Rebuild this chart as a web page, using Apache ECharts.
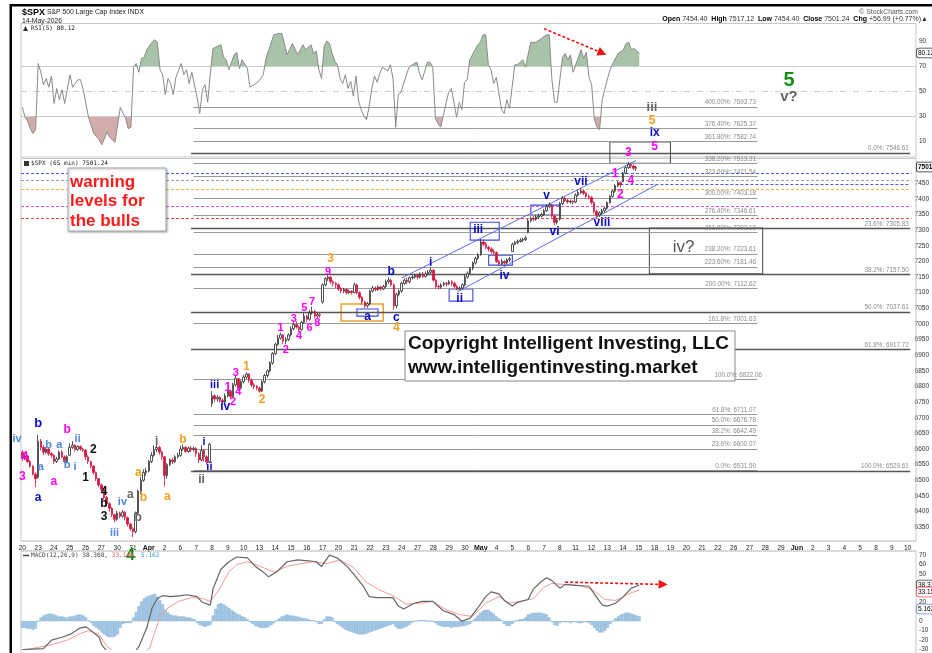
<!DOCTYPE html>
<html>
<head>
<meta charset="utf-8">
<script src="https://cdn.jsdelivr.net/npm/echarts@6/dist/echarts.min.js"></script>
<style>
  html, body { margin: 0; padding: 0; background: #fff; }
  #main { width: 932px; height: 653px; }
</style>
</head>
<body>
<div id="main"></div>
<script>
const FONT = '"Liberation Sans", Arial, sans-serif';
const MONO = '"DejaVu Sans Mono", "Liberation Mono", monospace';

// trading days on the date axis, 6 bars of 65 min per day
const days = ['20','23','24','25','26','27','30','31','Apr','2','6','7','8','9','10','13','14','15','16','17',
  '20','21','22','23','24','27','28','29','30','May','4','5','6','7','8','11','12','13','14','15',
  '18','19','20','21','22','26','27','28','29','Jun','2','3','4','5','8','9','10'];
const months = ['Apr', 'May', 'Jun'];
const BARS_PER_DAY = 6;
const N_CATS = 338;

// 65 min bars: [open, close, low, high], one row per day
const ohlc = [
  [6590,6570,6562,6596],[6570,6578,6565,6583],[6578,6560,6555,6582],[6560,6545,6540,6565],[6545,6520,6515,6548],[6520,6505,6478,6525],
  [6510,6625,6505,6645],[6625,6605,6595,6632],[6605,6590,6580,6612],[6590,6600,6585,6606],[6600,6585,6578,6605],[6585,6580,6572,6590],
  [6580,6560,6552,6583],[6560,6568,6555,6575],[6568,6590,6565,6595],[6590,6575,6570,6596],[6575,6560,6555,6580],[6560,6575,6555,6580],
  [6580,6605,6578,6618],[6605,6612,6600,6625],[6612,6598,6592,6615],[6598,6608,6594,6612],[6608,6600,6594,6612],[6600,6596,6590,6604],
  [6596,6575,6565,6600],[6575,6560,6552,6580],[6560,6545,6538,6563],[6545,6525,6518,6548],[6525,6505,6498,6528],[6505,6485,6478,6508],
  [6485,6470,6460,6490],[6470,6445,6438,6474],[6445,6425,6415,6450],[6425,6410,6400,6430],[6410,6390,6382,6414],[6390,6375,6365,6394],
  [6375,6395,6370,6402],[6395,6385,6378,6400],[6385,6398,6380,6405],[6398,6380,6372,6402],[6380,6360,6352,6384],[6360,6345,6338,6364],
  [6345,6335,6318,6350],[6335,6395,6330,6400],[6395,6465,6390,6470],[6465,6500,6455,6510],[6500,6525,6495,6535],[6525,6530,6515,6540],
  [6530,6560,6525,6565],[6560,6580,6555,6590],[6580,6598,6575,6612],[6598,6605,6590,6618],[6605,6590,6582,6610],[6590,6575,6565,6595],
  [6575,6515,6480,6578],[6515,6550,6505,6555],[6550,6565,6545,6570],[6565,6560,6552,6572],[6560,6575,6555,6580],[6575,6580,6570,6588],
  [6580,6600,6575,6610],[6600,6605,6595,6615],[6605,6592,6588,6610],[6592,6603,6588,6608],[6603,6598,6590,6610],[6598,6602,6592,6608],
  [6602,6585,6575,6606],[6585,6565,6555,6590],[6565,6595,6560,6612],[6595,6575,6560,6600],[6575,6560,6550,6580],[6560,6615,6555,6620],
  [6745,6770,6735,6785],[6770,6760,6750,6775],[6760,6765,6752,6772],[6765,6755,6748,6770],[6755,6750,6745,6762],[6750,6770,6745,6778],
  [6770,6785,6765,6790],[6785,6768,6760,6790],[6768,6805,6765,6812],[6805,6825,6800,6835],[6825,6795,6785,6828],[6795,6815,6790,6820],
  [6815,6830,6810,6838],[6830,6840,6825,6845],[6840,6820,6812,6842],[6820,6805,6798,6825],[6805,6800,6792,6812],[6800,6795,6788,6805],
  [6795,6785,6780,6800],[6785,6815,6782,6820],[6815,6835,6810,6840],[6835,6850,6828,6855],[6850,6875,6845,6880],[6875,6905,6870,6910],
  [6905,6935,6900,6940],[6935,6955,6930,6965],[6955,6965,6950,6972],[6965,6945,6935,6968],[6945,6950,6935,6958],[6950,6965,6945,6970],
  [6965,6985,6960,6992],[6985,6998,6980,7005],[6998,6990,6985,7008],[6990,6982,6975,6995],[6982,7005,6978,7010],[7005,7025,7000,7035],
  [7025,7015,7005,7030],[7015,7035,7010,7045],[7035,7040,7030,7055],[7040,7025,7018,7045],[7025,7030,7018,7035],[7030,7028,7020,7036],
  [7070,7125,7065,7130],[7125,7145,7120,7150],[7145,7150,7138,7158],[7150,7135,7128,7152],[7135,7130,7120,7140],[7130,7125,7115,7135],
  [7125,7112,7105,7130],[7112,7105,7098,7118],[7105,7110,7098,7115],[7110,7100,7094,7114],[7100,7105,7095,7110],[7105,7100,7094,7108],
  [7100,7125,7098,7132],[7125,7100,7095,7128],[7100,7085,7078,7104],[7085,7070,7062,7090],[7070,7058,7050,7074],[7058,7065,7052,7070],
  [7065,7105,7060,7110],[7105,7115,7100,7122],[7115,7110,7104,7120],[7110,7118,7105,7124],[7118,7112,7106,7122],[7112,7120,7108,7125],
  [7120,7135,7115,7142],[7135,7140,7128,7150],[7140,7125,7120,7145],[7125,7058,7045,7130],[7058,7095,7050,7100],[7095,7105,7088,7110],
  [7105,7130,7100,7135],[7130,7140,7125,7145],[7140,7135,7128,7148],[7135,7148,7130,7152],[7148,7150,7142,7156],[7150,7155,7145,7160],
  [7155,7150,7142,7160],[7150,7160,7145,7165],[7160,7152,7146,7166],[7152,7160,7148,7168],[7160,7165,7155,7172],[7165,7172,7160,7180],
  [7172,7140,7135,7175],[7140,7120,7112,7145],[7120,7118,7110,7126],[7118,7125,7112,7130],[7125,7130,7120,7135],[7130,7128,7120,7134],
  [7128,7135,7125,7140],[7135,7130,7122,7140],[7130,7120,7114,7134],[7120,7112,7108,7125],[7112,7115,7108,7120],[7115,7125,7110,7130],
  [7125,7150,7120,7158],[7150,7162,7145,7168],[7162,7178,7158,7182],[7178,7195,7172,7200],[7195,7210,7190,7215],[7210,7220,7205,7226],
  [7222,7262,7218,7272],[7262,7255,7248,7270],[7255,7245,7238,7262],[7245,7240,7232,7250],[7240,7232,7225,7245],[7232,7228,7220,7238],
  [7228,7200,7195,7232],[7200,7192,7186,7205],[7192,7200,7188,7208],[7200,7195,7188,7204],[7195,7205,7190,7210],[7205,7208,7198,7214],
  [7232,7255,7230,7260],[7255,7260,7252,7266],[7260,7264,7256,7270],[7264,7268,7260,7274],[7268,7270,7262,7276],[7270,7275,7265,7282],
  [7292,7330,7290,7336],[7330,7338,7325,7344],[7338,7335,7328,7345],[7335,7342,7330,7348],[7342,7345,7336,7352],[7345,7350,7340,7356],
  [7350,7362,7346,7368],[7362,7375,7358,7382],[7375,7380,7370,7388],[7380,7345,7340,7384],[7345,7325,7316,7350],[7325,7332,7318,7338],
  [7335,7385,7330,7390],[7385,7402,7380,7408],[7402,7395,7390,7406],[7395,7390,7384,7400],[7390,7392,7385,7398],[7392,7388,7382,7396],
  [7390,7412,7386,7418],[7412,7420,7408,7428],[7420,7425,7415,7435],[7425,7418,7412,7430],[7418,7408,7402,7422],[7408,7405,7398,7414],
  [7405,7388,7382,7408],[7388,7360,7352,7392],[7360,7348,7340,7365],[7348,7355,7342,7360],[7355,7362,7350,7368],[7362,7370,7356,7375],
  [7370,7388,7365,7392],[7388,7408,7384,7412],[7408,7425,7404,7430],[7425,7442,7420,7447],[7442,7452,7438,7458],[7452,7445,7436,7456],
  [7454.4,7482,7454.4,7486],[7482,7500,7478,7504],[7500,7510,7496,7517.12],[7510,7505,7498,7514],[7505,7498,7492,7510],[7498,7501.24,7490,7506]
];

// RSI(5): [bar, value]
const rsi5 = [
  [0,37],[1,29],[2,26],[3,20],[4,16],[5,19],[6,72],[7,65],[8,55],[9,60],[10,53],[11,62],[12,40],[13,52],[14,43],[15,51],[16,40],
  [18,63],[19,53],[21,59],[22,59],[23,51],[25,29],[27,16],[29,11],[30,7],[32,17],[33,13],[35,9],[37,37],[39,28],[40,20],[41,21],
  [42,69],[43,72],[44,65],[45,76],[46,77],[47,83],[49,89],[50,91],[51,89],[52,67],[53,63],[54,47],[55,60],[56,56],[57,47],[58,61],
  [60,72],[61,63],[62,67],[63,56],[64,65],[66,45],[67,32],[68,51],[69,55],[70,41],[71,64],[72,84],[75,87],[76,77],[77,75],[78,67],
  [80,79],[81,81],[82,68],[83,75],[85,68],[86,53],[89,57],[91,63],[92,76],[95,95],[97,96],[98,96],[100,79],[102,88],[104,79],
  [106,87],[107,83],[109,87],[110,80],[111,82],[112,67],[113,60],[114,86],[115,90],[116,88],[117,80],[118,74],[119,71],[120,60],
  [121,56],[122,63],[123,52],[124,58],[125,46],[126,62],[127,42],[128,35],[129,30],[130,27],[131,38],[132,52],[133,62],[134,57],
  [135,64],[136,69],[138,66],[139,71],[140,60],[141,21],[142,47],[143,49],[146,69],[148,72],[149,73],[150,64],[151,59],[153,73],
  [154,73],[155,69],[156,28],[157,24],[158,21],[160,40],[161,49],[162,52],[163,41],[164,29],[165,41],[166,35],[167,57],[168,59],
  [169,75],[172,87],[173,89],[174,95],[175,95],[176,71],[177,67],[178,56],[179,61],[181,35],[182,32],[183,43],[184,36],[186,71],
  [187,71],[188,73],[189,75],[190,69],[192,89],[194,89],[196,92],[198,95],[199,95],[200,59],[201,41],[202,41],[204,77],[205,80],
  [206,75],[207,79],[208,65],[211,83],[212,76],[213,81],[214,61],[215,55],[216,28],[217,21],[218,19],[219,43],[221,60],[222,67],
  [223,72],[225,80],[227,83],[228,88],[229,89],[230,83],[231,84],[233,80.12]
];

// MACD(12,26,9)
const macdLine = [
  [0,-30],[8,-29],[11,-20],[15,-17],[18,-14],[22,-7],[24,-6],[26,-10],[29,-17],[30,-25],[32,-32],[35,-38],[38,-41],[41,-38],
  [44,-27],[47,-7],[49,14],[51,24],[53,27],[56,26],[60,27],[62,28],[66,26],[68,20],[71,17],[72,34],[75,55],[78,63],[81,68],
  [85,67],[88,58],[91,52],[93,47],[96,52],[100,63],[104,65],[108,64],[111,63],[113,58],[116,70],[119,67],[123,57],[126,47],
  [129,36],[131,26],[134,25],[140,25],[142,16],[144,13],[148,19],[151,21],[155,21],[159,11],[163,7],[166,0],[169,3],[172,14],
  [175,26],[177,31],[180,29],[182,22],[185,16],[187,20],[191,23],[193,34],[196,42],[198,46],[200,43],[203,35],[205,39],[209,38],
  [214,37],[216,29],[219,17],[221,16],[224,19],[227,26],[230,35],[232,37],[233,38.31]
];
const signalLine = [
  [0,-31],[11,-25],[17,-20],[22,-13],[25,-10],[29,-14],[32,-27],[35,-33],[40,-37],[44,-35],[48,-29],[50,-12],[52,4],[55,14],
  [59,21],[64,25],[68,24],[71,21],[74,32],[78,52],[81,60],[85,63],[90,58],[95,52],[100,58],[105,61],[110,63],[115,61],[120,65],
  [125,57],[130,41],[135,33],[140,27],[145,18],[150,19],[155,21],[160,12],[165,7],[170,5],[175,19],[180,26],[184,19],[188,21],
  [193,24],[197,36],[200,40],[204,39],[210,38],[215,34],[220,23],[224,22],[229,29],[233,33.15]
];
const macdHist = [
  -7,-7,-8,-8,-9,-8,   0,4,6,7,8,8,   7,6,5,5,4,4,   5,5,6,7,7,6,   4,1,-2,-5,-7,-9,   -12,-14,-16,-17,-17,-16,
  -14,-7,-3,-2,-2,-2,   4,10,16,21,24,26,   27,28,29,26,22,18,   12,9,7,6,6,5,   5,5,4,4,3,2,   -2,-4,-5,-6,-5,-4,
  6,13,18,19,18,16,   14,12,10,8,7,5,   4,2,-1,-3,-5,-6,   -7,-7,-7,-6,-4,-2,   1,3,5,6,7,6,   6,5,5,4,3,3,
  2,1,1,-1,-3,-3,   2,5,5,4,-1,-3,   -5,-7,-9,-10,-11,-12,   -13,-14,-14,-14,-13,-12,   -11,-10,-9,-8,-7,-6,   -5,-4,-3,-6,-8,-8,
  -7,-6,-4,-2,0,0,   1,1,1,0,0,0,   -2,-4,-5,-6,-6,-6,   -7,-6,-6,-6,-5,-5,   -4,-3,0,3,6,9,   11,12,12,10,8,5,
  3,1,-3,-5,-5,-3,   0,1,2,2,4,7,   8,9,9,9,9,8,   7,4,-1,-4,-5,-2,   -1,-1,-1,-2,-1,-1,   -2,-2,-1,-1,-2,-4,
  -7,-10,-12,-12,-10,-7,   -3,0,3,5,7,8,   9,9,8,7,6,5.16
];

// Fibonacci levels
const fibExt = [['400.00%',7693.73],['376.40%',7625.37],['361.80%',7582.74],['338.20%',7513.31],['323.60%',7471.54],
  ['300.00%',7403.18],['276.40%',7346.61],['261.80%',7292.18],['238.20%',7223.61],['223.60%',7181.46],['200.00%',7112.62],
  ['161.8%',7001.63],['100.0%',6822.06],['61.8%',6711.07],['50.0%',6676.78],['38.2%',6642.49],['23.6%',6600.07],['0.0%',6531.50]];
const fibRet = [['0.0%',7546.61],['23.6%',7305.83],['38.2%',7157.50],['50.0%',7037.61],['61.8%',6917.72],['100.0%',6529.61]];
const warnLevels = [7482, 7459, 7432, 7375, 7337];
const warnColors = ['#4a5cf0', '#a0a0a0', '#f4b24a', '#e44ce4', '#e24a4a'];

// wave count labels: [text, bar, price, colour, size]
const MG = '#ff00ff', BL = '#0a0ac8', LB = '#4f86dd', BK = '#111', GR = '#666', OR = '#f5a020', GN = '#168a16';
const waves = [
  ['iv',-1.6,6632,LB,11],['4',1,6574,MG,12],['3',0,6510,MG,12],['a',5.5,6443,BL,12],['b',6.3,6683,BL,13],['a',7.4,6542,LB,11],
  ['b',10.1,6613,LB,11],['a',11.6,6494,MG,12],['a',14.2,6613,LB,11],['b',17.3,6661,MG,12],['b',16.5,6549,LB,11],['ii',21,6632,LB,11],
  ['i',19.5,6542,LB,11],['2',27.4,6597,BK,12],['1',24,6507,BK,12],['4',31.2,6462,BK,12],['b',31.2,6424,BK,12],['3',30.5,6383,BK,12],
  ['iv',37.6,6431,LB,11],['iii',35,6331,LB,11],['a',41.4,6453,GR,12],['b',43.7,6379,GR,12],['b',45.6,6443,OR,12],['a',44.4,6523,OR,12],
  ['i',50.9,6622,GR,12],['a',54.6,6447,OR,12],['b',60.7,6629,OR,12],['i',68.6,6622,BL,11],['ii',71.3,6542,BL,11],['ii',67.9,6501,GR,12],
  ['iii',72.8,6805,BL,11],['iv',76.9,6734,BL,12],['1',77.7,6795,MG,12],['2',80.3,6750,MG,11],['4',81.8,6782,MG,11],['3',80.7,6843,MG,11],
  ['1',84.5,6862,OR,12],['2',90.5,6757,OR,12],['1',98.4,6987,MG,11],['2',100.3,6917,MG,11],['3',103.4,7016,MG,11],['4',104.9,6961,MG,11],
  ['5',107.1,7051,MG,11],['7',110.2,7070,MG,11],['6',109.4,6987,MG,11],['8',112,7003,MG,11],['9',116.2,7166,MG,11],['3',116.6,7208,OR,12],
  ['a',131.3,7022,BL,12],['b',139.6,7166,BL,12],['c',141.5,7019,BL,12],['4',141.5,6987,OR,12],['i',154.7,7195,BL,12],['ii',166,7080,BL,12],
  ['iii',172.8,7300,BL,12],['iv',182.7,7153,BL,12],['v',198.9,7409,BL,12],['vi',201.9,7294,BL,12],['vii',211.7,7454,BL,12],
  ['viii',220,7323,BL,12],['1',225.3,7479,MG,12],['2',226.8,7412,MG,12],['4',230.6,7457,MG,12],['3',230.2,7547,MG,12],
  ['5',240.1,7566,MG,12],['ix',239.7,7611,BL,12],['5',239.3,7649,OR,12],['iii',239.3,7694,GR,13],['5',290.7,7780,GN,20],
  ['v?',291.4,7726,GR,15],['4',41,6258,GN,16]
];

// boxes: [bar from, bar to, low, high, colour]
const boxes = [
  [170,181,7268,7325,'#3b4be0'],[177,186,7188,7220,'#3b4be0'],[162,171,7073,7112,'#3b4be0'],[193,204,7348,7380,'#3b4be0'],
  [127,135,7025,7048,'#3b4be0'],[121,137,7009,7064,'#f0a030'],[223,246,7514,7582,'#555'],[238,281,7160,7307,'#555']
];
const channels = [[144,7147,233,7523],[165,7102,241,7446]];

const cats = Array.from({ length: N_CATS }, (_, i) => String(i));

function xAx(gi) {
  return {
    type: 'category', gridIndex: gi, data: cats, boundaryGap: true,
    axisLine: { show: false }, axisTick: { show: false }, splitLine: { show: false },
    axisLabel: { show: false }
  };
}
const dateAxis = xAx(1);
dateAxis.axisLabel = {
  show: true, margin: 1.5, fontSize: 6.5, color: '#222', fontFamily: FONT,
  interval: (i) => i % BARS_PER_DAY === 0,
  formatter: (v, i) => {
    const d = days[Math.floor(i / BARS_PER_DAY)] || '';
    return months.indexOf(d) >= 0 ? '{m|' + d + '}' : d;
  },
  rich: { m: { fontWeight: 'bold', fontSize: 7, fontFamily: FONT, color: '#111' } }
};

function yAx(gi, min, max, interval, show) {
  return {
    type: 'value', gridIndex: gi, position: 'right', min: min, max: max, interval: interval,
    axisLine: { show: false }, axisTick: { show: false }, splitLine: { show: false },
    axisLabel: { margin: 3, fontSize: 6.5, color: '#333', fontFamily: FONT, formatter: (v) => (show(v) ? String(v) : '') }
  };
}

// the 100% extension label sits over the copyright box, so it is drawn later as an overlay
const OVERLAY_FIB = 6822.06;
const fibLines = [];
fibExt.forEach(([p, v]) => {
  fibLines.push([
    { coord: [65, v], lineStyle: { color: '#9a9a9a', width: 1, type: 'solid' },
      label: { show: v !== OVERLAY_FIB, position: 'insideEndTop', formatter: p + ': ' + v.toFixed(2), fontSize: 6.3, color: '#8a8a8a', fontFamily: FONT, distance: 1.5 } },
    { coord: [279, v] }
  ]);
});
fibRet.forEach(([p, v]) => {
  fibLines.push([
    { coord: [64, v], lineStyle: { color: '#555', width: 1.4, type: 'solid' },
      label: { show: true, position: 'insideEndTop', formatter: p + ': ' + v.toFixed(2), fontSize: 6.3, color: '#8a8a8a', fontFamily: FONT, distance: 1.5 } },
    { coord: [337, v] }
  ]);
});
warnLevels.forEach((v, i) => {
  fibLines.push({ yAxis: v, lineStyle: { color: warnColors[i], width: 1, type: [3, 2] } });
});
fibLines.push([{ coord: [227, 7446.5], lineStyle: { color: '#4a5cf0', width: 1, type: [3, 2] } }, { coord: [337, 7446.5] }]);
channels.forEach(c => {
  fibLines.push([{ coord: [c[0], c[1]], lineStyle: { color: '#5c6cf0', width: 1, type: 'solid' } }, { coord: [c[2], c[3]] }]);
});

const areas = boxes.map(b => [
  { xAxis: b[0], yAxis: b[3], itemStyle: { color: 'rgba(0,0,0,0)', borderColor: b[4], borderWidth: b[4] === '#f0a030' ? 1.5 : 1.1 } },
  { xAxis: b[1], yAxis: b[2] }
]);

const waveData = waves.map(w => ({
  value: [w[1], w[2]],
  label: { show: true, position: 'inside', formatter: w[0], color: w[3], fontSize: w[4], fontWeight: 'bold', fontFamily: FONT }
}));
waveData.push({
  value: [251.4, 7246],
  label: { show: true, position: 'inside', formatter: 'iv?', color: '#555', fontSize: 17, fontWeight: 'normal', fontFamily: FONT }
});

const redArrow = (a) => [
  { coord: [a[0], a[1]], symbol: 'none', lineStyle: { color: '#ee1111', width: 1.6, type: [3, 2] } },
  { coord: [a[2], a[3]], symbol: 'triangle', symbolSize: 9 }
];

const clear = 'rgba(0,0,0,0)';
const chart = echarts.init(document.getElementById('main'));
const option = {
  animation: false,
  backgroundColor: '#fff',
  grid: [
    { left: 21, right: 16, top: 28.5, height: 125 },
    { left: 21, right: 16, top: 26.9, height: 515.9 },
    { left: 21, right: 16, top: 552, height: 101 }
  ],
  xAxis: [xAx(0), dateAxis, xAx(2)],
  yAxis: [
    yAx(0, 0, 100, 10, v => [10, 30, 50, 70, 90].indexOf(v) >= 0),
    yAx(1, 6300, 7950, 50, v => v >= 6350 && v <= 7450),
    yAx(2, -30, 73.3, 10, v => v <= 70)
  ],
  visualMap: [
    { type: 'piecewise', show: false, seriesIndex: 1, dimension: 1,
      pieces: [{ gte: -10, lte: 70, color: clear }, { gt: 70, lte: 110, color: '#a9c3a9' }] },
    { type: 'piecewise', show: false, seriesIndex: 2, dimension: 1,
      pieces: [{ gte: -10, lt: 30, color: '#d2abab' }, { gte: 30, lte: 110, color: clear }] }
  ],
  series: [
    {
      type: 'line', xAxisIndex: 0, yAxisIndex: 0, data: rsi5, symbol: 'none', z: 6,
      lineStyle: { color: '#8a8a8a', width: 1 },
      markLine: {
        silent: true, symbol: 'none', label: { show: false },
        data: [
          { yAxis: 70, lineStyle: { color: '#cccccc', width: 1, type: 'solid' } },
          { yAxis: 30, lineStyle: { color: '#cccccc', width: 1, type: 'solid' } },
          { yAxis: 50, lineStyle: { color: '#cccccc', width: 1, type: [6, 3, 1, 3] } },
          redArrow([197, 99.9, 219, 80.4])
        ]
      }
    },
    { type: 'line', xAxisIndex: 0, yAxisIndex: 0, data: rsi5, symbol: 'none', silent: true, z: 2,
      lineStyle: { width: 0 }, areaStyle: { origin: 'start', opacity: 1 } },
    { type: 'line', xAxisIndex: 0, yAxisIndex: 0, data: rsi5, symbol: 'none', silent: true, z: 2,
      lineStyle: { width: 0 }, areaStyle: { origin: 'end', opacity: 1 } },
    {
      type: 'candlestick', xAxisIndex: 1, yAxisIndex: 1, data: ohlc, barWidth: 2, z: 5,
      itemStyle: { color: '#ffffff', color0: '#d3173d', borderColor: '#2b2b2b', borderColor0: '#d3173d', borderWidth: 0.8 },
      markLine: { silent: true, symbol: 'none', label: { show: false }, data: fibLines },
      markArea: { silent: true, label: { show: false }, data: areas }
    },
    {
      type: 'scatter', xAxisIndex: 1, yAxisIndex: 1, data: waveData, symbolSize: 0, clip: false, silent: true, z: 10,
      itemStyle: { opacity: 1 }
    },
    {
      type: 'bar', xAxisIndex: 2, yAxisIndex: 2, data: macdHist, barWidth: 2.7, z: 2, silent: true,
      itemStyle: { color: '#a9cce6', borderColor: '#79a9d3', borderWidth: 0.5 }
    },
    {
      type: 'line', xAxisIndex: 2, yAxisIndex: 2, data: macdLine, symbol: 'none', z: 6,
      lineStyle: { color: '#666', width: 1.2 },
      markLine: { silent: true, symbol: 'none', label: { show: false }, data: [redArrow([205, 41.4, 242, 38.9])] }
    },
    {
      type: 'line', xAxisIndex: 2, yAxisIndex: 2, data: signalLine, symbol: 'none', z: 5,
      lineStyle: { color: '#f29a9a', width: 1 }
    }
  ],
  graphic: [
    { type: 'rect', z: 1, shape: { x: 21, y: 23.5, width: 895, height: 133.5 }, style: { fill: 'none', stroke: '#c8c8c8', lineWidth: 1 } },
    { type: 'rect', z: 1, shape: { x: 21, y: 158.5, width: 895, height: 382.5 }, style: { fill: 'none', stroke: '#c8c8c8', lineWidth: 1 } },
    { type: 'rect', z: 1, shape: { x: 21, y: 551, width: 895, height: 110 }, style: { fill: 'none', stroke: '#c8c8c8', lineWidth: 1 } },
    { type: 'line', z: 1, shape: { x1: 21, y1: 541.5, x2: 916, y2: 541.5 }, style: { stroke: '#bbb', lineWidth: 1, lineDash: [1, 1] } },
    { type: 'line', z: 1, shape: { x1: 21, y1: 551, x2: 916, y2: 551 }, style: { stroke: '#bbb', lineWidth: 1, lineDash: [1, 1] } },
    { type: 'rect', z: 50, shape: { x: 10, y: 4, width: 922, height: 2.5 }, style: { fill: '#000' } },
    { type: 'rect', z: 50, shape: { x: 9.5, y: 4, width: 2.5, height: 660 }, style: { fill: '#000' } },

    { type: 'text', z: 50, x: 22, y: 12.5, style: { text: '{a|$SPX} S&P 500 Large Cap Index INDX', fontSize: 6.8, fontFamily: FONT, fill: '#222', verticalAlign: 'middle',
      rich: { a: { fontSize: 9, fontWeight: 'bold', fontFamily: FONT, fill: '#000' } } } },
    { type: 'text', z: 50, x: 22, y: 21, style: { text: '14-May-2026', fontSize: 6.8, fontFamily: FONT, fill: '#222', verticalAlign: 'middle' } },
    { type: 'polygon', z: 50, shape: { points: [[23, 31], [25.5, 26], [28, 31]] }, style: { fill: '#333' } },
    { type: 'text', z: 50, x: 31, y: 28.5, style: { text: 'RSI(5) 80.12', fontSize: 6.1, fontFamily: MONO, fill: '#222', verticalAlign: 'middle' } },
    { type: 'rect', z: 50, shape: { x: 24, y: 161, width: 5, height: 5 }, style: { fill: '#333' } },
    { type: 'text', z: 50, x: 31, y: 163.5, style: { text: '$SPX (65 min) 7501.24', fontSize: 6.1, fontFamily: MONO, fill: '#222', verticalAlign: 'middle' } },
    { type: 'line', z: 50, shape: { x1: 23, y1: 555.5, x2: 29, y2: 555.5 }, style: { stroke: '#444', lineWidth: 1.5 } },
    { type: 'text', z: 50, x: 31, y: 555.5, style: { text: '{k|MACD(12,26,9) 38.308,} {r|33.146,} {c|5.162}', fontSize: 6.1, fontFamily: MONO, verticalAlign: 'middle',
      rich: { k: { fill: '#444', fontSize: 6.1, fontFamily: MONO }, r: { fill: '#f05050', fontSize: 6.1, fontFamily: MONO }, c: { fill: '#3a9ad6', fontSize: 6.1, fontFamily: MONO } } } },
    { type: 'text', z: 50, x: 918, y: 12, style: { text: '\u00a9 StockCharts.com', fontSize: 6.8, fontFamily: FONT, fill: '#555', align: 'right', verticalAlign: 'middle' } },
    { type: 'text', z: 50, x: 928, y: 19.5, style: {
      text: '{b|Open} 7454.40  {b|High} 7517.12  {b|Low} 7454.40  {b|Close} 7501.24  {b|Chg} +56.99 (+0.77%)\u25b2',
      fontSize: 7, fontFamily: FONT, fill: '#333', align: 'right', verticalAlign: 'middle',
      rich: { b: { fontWeight: 'bold', fontSize: 7, fontFamily: FONT, fill: '#000' } } } },

    { type: 'text', z: 60, x: 917, y: 53, style: { text: '80.12', fontSize: 6.5, fontFamily: FONT, fill: '#000', verticalAlign: 'middle',
      backgroundColor: '#fff', borderColor: '#333', borderWidth: 0.8, borderRadius: 2, padding: [1, 1] } },
    { type: 'text', z: 60, x: 917, y: 167, style: { text: '7501', fontSize: 6.5, fontWeight: 'bold', fontFamily: FONT, fill: '#000', verticalAlign: 'middle',
      backgroundColor: '#fff', borderColor: '#222', borderWidth: 0.8, borderRadius: 1, padding: [1, 1] } },
    { type: 'text', z: 60, x: 917, y: 585, style: { text: '38.31', fontSize: 6.5, fontFamily: FONT, fill: '#000', verticalAlign: 'middle',
      backgroundColor: '#fff', borderColor: '#333', borderWidth: 0.8, borderRadius: 2, padding: [1, 1] } },
    { type: 'text', z: 60, x: 917, y: 592, style: { text: '33.15', fontSize: 6.5, fontFamily: FONT, fill: '#000', verticalAlign: 'middle',
      backgroundColor: '#fff', borderColor: '#f05050', borderWidth: 0.8, borderRadius: 2, padding: [1, 1] } },
    { type: 'text', z: 60, x: 917, y: 609, style: { text: '5.162', fontSize: 6.5, fontFamily: FONT, fill: '#000', verticalAlign: 'middle',
      backgroundColor: '#fff', borderColor: '#6a7ee0', borderWidth: 0.8, borderRadius: 2, padding: [1, 1] } },

    { type: 'rect', z: 70, shape: { x: 68, y: 168, width: 98, height: 63 },
      style: { fill: '#fff', stroke: '#aaa', lineWidth: 1, shadowBlur: 2, shadowOffsetX: 1, shadowOffsetY: 1, shadowColor: 'rgba(0,0,0,0.3)' } },
    { type: 'text', z: 71, x: 70, y: 182, style: { text: 'warning', fontSize: 17, fontWeight: 'bold', fontFamily: FONT, fill: '#ff1a1a', verticalAlign: 'middle' } },
    { type: 'text', z: 71, x: 70, y: 201.5, style: { text: 'levels for', fontSize: 17, fontWeight: 'bold', fontFamily: FONT, fill: '#ff1a1a', verticalAlign: 'middle' } },
    { type: 'text', z: 71, x: 70, y: 221, style: { text: 'the bulls', fontSize: 17, fontWeight: 'bold', fontFamily: FONT, fill: '#ff1a1a', verticalAlign: 'middle' } },

    { type: 'rect', z: 70, shape: { x: 405, y: 331, width: 330, height: 50 }, style: { fill: '#fff', stroke: '#888', lineWidth: 1 } },
    { type: 'text', z: 71, x: 408, y: 344, style: { text: 'Copyright Intelligent Investing, LLC', fontSize: 19, fontWeight: 'bold', fontFamily: FONT, fill: '#111', verticalAlign: 'middle' } },
    { type: 'text', z: 71, x: 408, y: 368, style: { text: 'www.intelligentinvesting.market', fontSize: 19, fontWeight: 'bold', fontFamily: FONT, fill: '#111', verticalAlign: 'middle' } },
    { type: 'text', z: 72, x: 762, y: 375.5, style: { text: '100.0%: 6822.06', fontSize: 6.3, fontFamily: FONT, fill: '#8a8a8a', align: 'right', verticalAlign: 'middle' } }
  ]
};
chart.setOption(option);
</script>
</body>
</html>
